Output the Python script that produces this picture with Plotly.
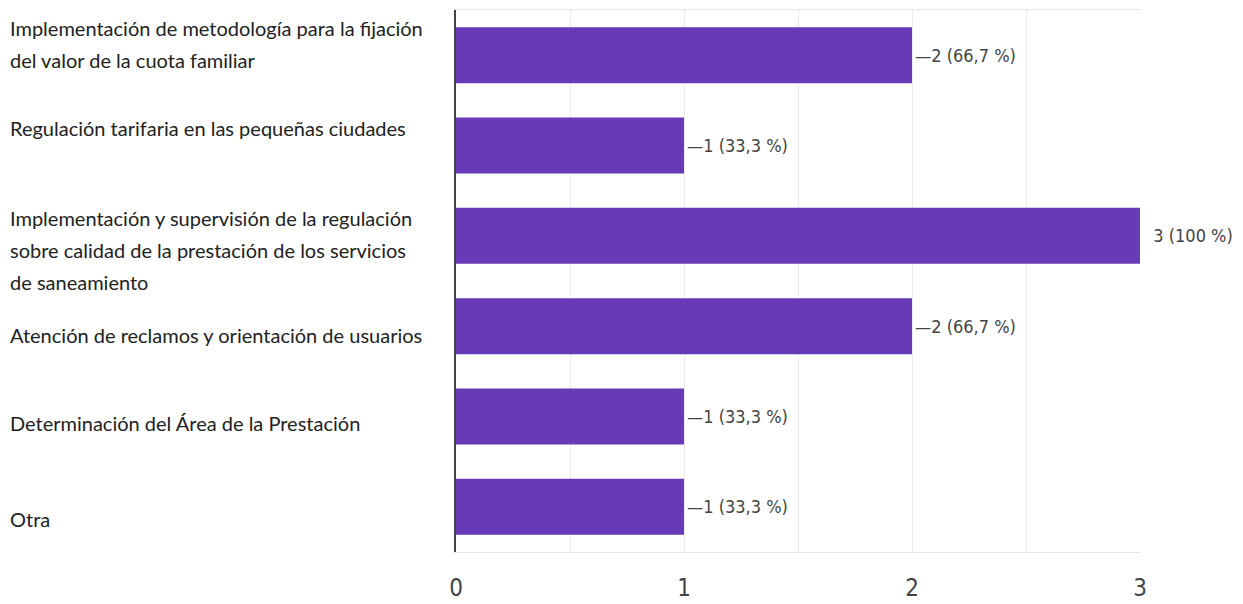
import plotly.graph_objects as go

categories = [
    "Implementación de metodología para la fijación<br>del valor de la cuota familiar",
    "Regulación tarifaria en las pequeñas ciudades",
    "Implementación y supervisión de la regulación<br>sobre calidad de la prestación de los servicios<br>de saneamiento",
    "Atención de reclamos y orientación de usuarios",
    "Determinación del Área de la Prestación",
    "Otra",
]
values = [2, 1, 3, 2, 1, 1]
total_respondents = 3
tick_vals = [0, 1, 2, 3]
tick_text = ["0", "1", "2", "3"]

# pixel offsets of the first label line relative to the bar centre (screenshot layout)
label_offsets = [-27, -18, -18, 9, 6, 12]
line_step = 32

BAR_COLOR = "#673AB7"
LABEL_FONT = "Lato, sans-serif"
NUM_FONT = "DejaVu Sans Condensed, Roboto Condensed, Liberation Sans Narrow, sans-serif"


def fmt(v):
    pct = v / total_respondents * 100
    s = f"{pct:.1f}".replace(".", ",")
    if s.endswith(",0"):
        s = s[:-2]
    return f"{v} ({s} %)"


vmax = max(values)
texts = [("—" if v < vmax else "  ") + fmt(v) for v in values]

fig = go.Figure(
    go.Bar(
        x=values,
        y=list(range(len(categories))),
        orientation="h",
        marker=dict(color=BAR_COLOR, line=dict(width=0)),
        text=texts,
        textposition="outside",
        textfont=dict(family=NUM_FONT, size=18, color="#444444"),
        cliponaxis=False,
        hoverinfo="skip",
    )
)

annotations = []
for i, cat in enumerate(categories):
    lines = cat.split("<br>")
    for j, line in enumerate(lines):
        annotations.append(
            dict(
                x=0, xref="paper", xshift=-448, xanchor="left",
                y=i, yref="y", yanchor="middle",
                yshift=-(label_offsets[i] + j * line_step),
                text=line, showarrow=False,
                font=dict(family=LABEL_FONT, size=20, color="#222222"),
            )
        )

# page body has an 8px margin, so the figure is 8px smaller than the window
fig.update_layout(
    width=1235, height=596,
    margin=dict(l=448, r=103, t=2, b=52),
    paper_bgcolor="white", plot_bgcolor="white",
    bargap=0.38,
    showlegend=False,
    annotations=annotations,
    xaxis=dict(
        range=[0, 3],
        tickvals=tick_vals, ticktext=tick_text,
        showgrid=True, gridcolor="#ebebeb", gridwidth=1,
        minor=dict(dtick=0.5, showgrid=True, gridcolor="#ebebeb"),
        zeroline=False,
        showline=True, linecolor="#e6e6e6", mirror=True,
        ticks="",
        tickfont=dict(family=NUM_FONT, size=24, color="#444444"),
        ticklabelstandoff=14,
    ),
    yaxis=dict(
        range=[len(categories) - 0.5, -0.5],
        showticklabels=False, showgrid=False, zeroline=False,
        showline=True, linecolor="#444444", linewidth=2,
        ticks="",
    ),
)

fig.write_html("out.html")
